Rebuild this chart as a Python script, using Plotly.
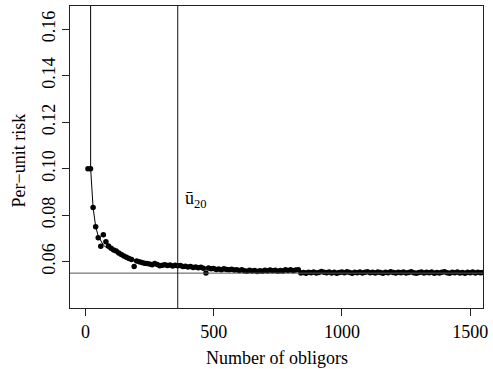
import plotly.graph_objects as go

# Number of obligors (simulation grid) and simulated per-unit risk
n_obligors = list(range(10, 1560, 10))
per_unit_risk = [
    0.1000, 0.1000, 0.0833, 0.0751, 0.0703, 0.0667, 0.0716, 0.0686, 0.0668, 0.0658,
    0.0651, 0.0646, 0.0638, 0.0631, 0.0625, 0.0619, 0.0614, 0.0610, 0.0579, 0.0603,
    0.0600, 0.0597, 0.0594, 0.0592, 0.0590, 0.0587, 0.0592, 0.0588, 0.0583, 0.0585,
    0.0587, 0.0584, 0.0586, 0.0582, 0.0585, 0.0583, 0.0584, 0.0580, 0.0581, 0.0577,
    0.0579, 0.0575, 0.0577, 0.0574, 0.0576, 0.0572, 0.0552, 0.0573, 0.0570, 0.0571,
    0.0567, 0.0569, 0.0566, 0.0570, 0.0567, 0.0565, 0.0568, 0.0564, 0.0566, 0.0562,
    0.0565, 0.0561, 0.0559, 0.0563, 0.0560, 0.0562, 0.0558, 0.0561, 0.0559, 0.0563,
    0.0560, 0.0564, 0.0561, 0.0563, 0.0559, 0.0562, 0.0560, 0.0565, 0.0562, 0.0566,
    0.0561, 0.0564, 0.0566, 0.0552, 0.0554, 0.0551, 0.0555, 0.0553, 0.0556, 0.0552,
    0.0554, 0.0558, 0.0555, 0.0553, 0.0556, 0.0552, 0.0555, 0.0550, 0.0554, 0.0556,
    0.0553, 0.0557, 0.0554, 0.0551, 0.0555, 0.0553, 0.0556, 0.0552, 0.0555, 0.0557,
    0.0553, 0.0555, 0.0552, 0.0556, 0.0554, 0.0551, 0.0555, 0.0553, 0.0557, 0.0554,
    0.0552, 0.0555, 0.0553, 0.0556, 0.0552, 0.0554, 0.0557, 0.0553, 0.0550, 0.0554,
    0.0556, 0.0552, 0.0555, 0.0553, 0.0556, 0.0551, 0.0554, 0.0552, 0.0555, 0.0557,
    0.0553, 0.0551, 0.0555, 0.0553, 0.0556, 0.0552, 0.0554, 0.0551, 0.0555, 0.0553,
    0.0556, 0.0552, 0.0555, 0.0553, 0.0554,
]

# Theoretical curve
curve_n = [20, 20.5, 30, 40, 50, 60, 70, 80, 100, 120, 150, 200, 250, 300, 400,
           500, 600, 800, 1000, 1300, 1550]
curve_risk = [0.40, 0.100, 0.0833, 0.0752, 0.0710, 0.0688, 0.0672, 0.0662, 0.0650,
              0.0641, 0.0626, 0.0603, 0.0591, 0.0585, 0.0577, 0.0570, 0.0566,
              0.0561, 0.0558, 0.0555, 0.0554]

asymptote = 0.0551
u20_n = 360
u20_label = "ū<sub>20</sub>"
x_ticks = [0, 500, 1000, 1500]
y_ticks = [0.06, 0.08, 0.10, 0.12, 0.14, 0.16]

FONT = "Liberation Serif"

fig = go.Figure()
fig.add_trace(go.Scatter(x=curve_n, y=curve_risk, mode="lines",
                         line=dict(color="black", width=1), hoverinfo="skip"))
fig.add_trace(go.Scatter(x=n_obligors, y=per_unit_risk, mode="markers",
                         marker=dict(color="black", size=5.5, line=dict(width=0))))

fig.add_hline(y=asymptote, line=dict(color="#555555", width=1))
fig.add_vline(x=u20_n, line=dict(color="#111111", width=1))

fig.add_annotation(x=u20_n + 22, y=0.0867, text=u20_label, showarrow=False,
                   xanchor="left", yanchor="middle",
                   font=dict(family=FONT, size=18, color="black"))

fig.add_annotation(xref="paper", yref="paper", x=0.5, y=-0.165,
                   text="Number of obligors", showarrow=False,
                   xanchor="center", yanchor="middle",
                   font=dict(family=FONT, size=18, color="black"))
fig.add_annotation(xref="paper", yref="paper", x=-0.124, y=0.488,
                   text="Per\u2212unit risk", showarrow=False, textangle=-90,
                   xanchor="center", yanchor="middle",
                   font=dict(family=FONT, size=18, color="black"))

axis_common = dict(showgrid=False, zeroline=False, showline=True, mirror=True,
                   linecolor="#222222", linewidth=1, ticks="outside",
                   ticklen=7, tickcolor="#222222", tickwidth=1,
                   ticklabeloverflow="allow",
                   tickfont=dict(family=FONT, size=18, color="black"))

fig.update_xaxes(range=[-60, 1550], tickvals=x_ticks,
                 ticktext=[str(v) for v in x_ticks], **axis_common)
fig.update_yaxes(range=[0.0401, 0.170], tickvals=y_ticks,
                 ticktext=[f"{v:.2f}" for v in y_ticks], tickangle=-90,
                 **axis_common)

fig.update_layout(width=493, height=369, showlegend=False,
                  font=dict(family=FONT, size=18, color="black"),
                  margin=dict(l=70, r=5, t=5, b=61),
                  plot_bgcolor="white", paper_bgcolor="white")

fig.write_html("out.html")
